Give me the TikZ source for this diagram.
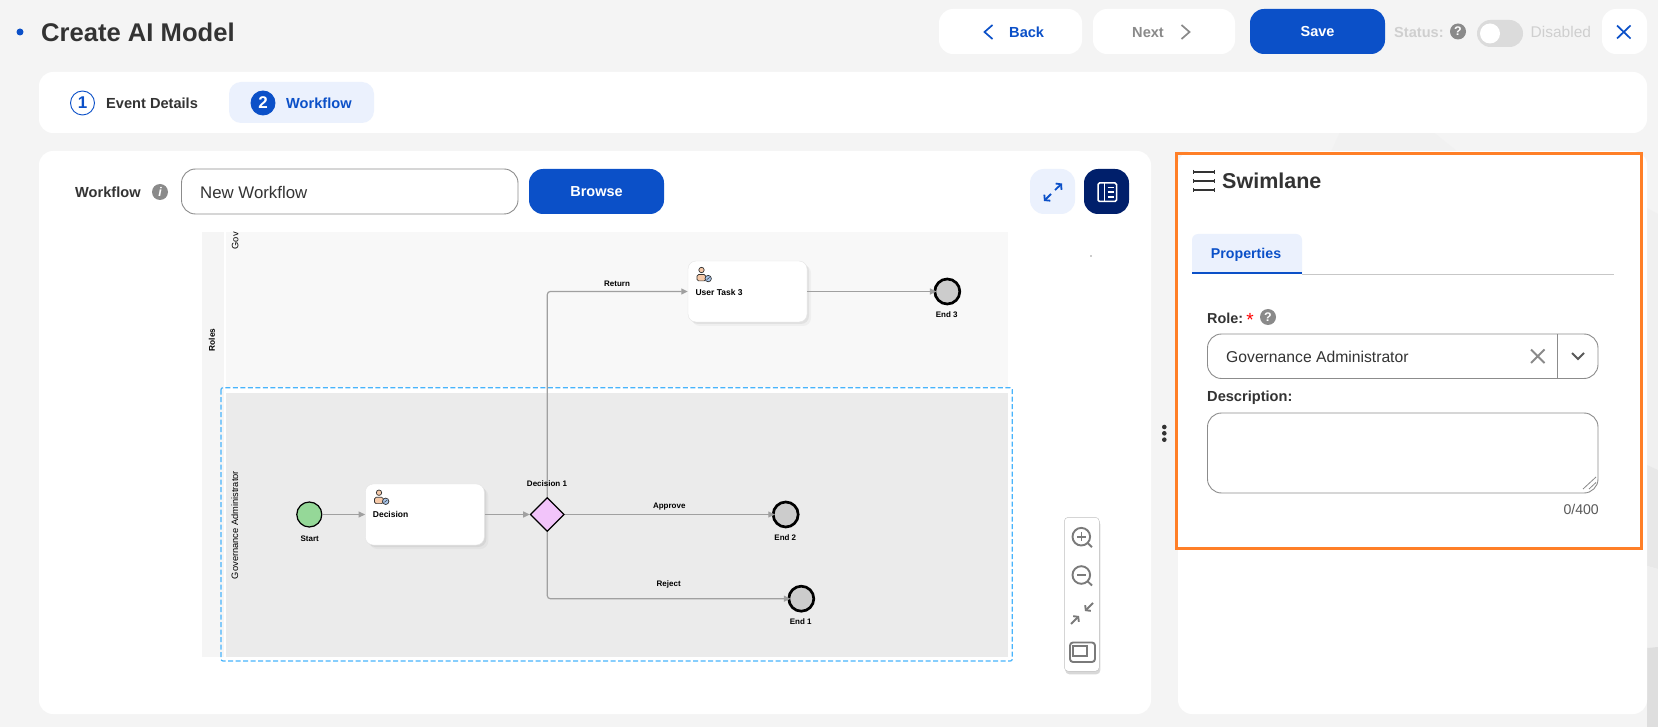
\documentclass[tikz,border=0pt]{standalone}
\usepackage{fontspec}
\setmainfont{Liberation Sans}
\usetikzlibrary{arrows.meta,positioning,shapes.geometric,shadows}
\definecolor{page_bg}{HTML}{F4F4F4}
\definecolor{brand_blue}{HTML}{0B50C8}
\definecolor{pale_blue}{HTML}{EBF1FD}
\definecolor{navy}{HTML}{001F6B}
\definecolor{ink}{HTML}{333333}
\definecolor{mute}{HTML}{8A8A8A}
\definecolor{faded}{HTML}{CFCFCF}
\definecolor{edge}{HTML}{8C8C8C}
\definecolor{flow}{HTML}{A0A0A0}
\definecolor{startgreen}{HTML}{95D898}
\definecolor{gatepink}{HTML}{F2C4FA}
\definecolor{personskin}{HTML}{F6C9A8}
\definecolor{badgeblue}{HTML}{A9C6EA}
\definecolor{dash_blue}{HTML}{48B4FC}
\definecolor{panel_orange}{HTML}{FF7F27}
\newcommand{\fsize}[1]{\fontsize{#1}{#1}\selectfont}
\tikzset{
        % Text, size in px, shifted so that the given y is the middle of the capitals
        sz_bold/.style={font=\bfseries\fsize{#1}, yshift={(2.6-0.36*#1)*1pt}},
        sz_plain/.style={font=\fsize{#1}, yshift={(2.6-0.36*#1)*1pt}},
        txt/.style={inner sep=0pt, anchor=mid west, text=ink},
        txt_bold/.style={txt, sz_bold=14.6},
        txt_flow/.style={inner sep=0pt, anchor=mid, text=black, sz_bold=8, yshift=-.8pt},
        txt_task/.style={inner sep=0pt, anchor=mid west, text=black, sz_bold=8.5, yshift=-.8pt},
        txt_side/.style={inner sep=0pt, anchor=mid, text=black, rotate=90},
        % Cards and buttons
        card/.style={draw=none, fill=white, rounded corners=14pt, inner sep=0pt},
        button/.style={card, minimum height=45pt},
        button_blue/.style={button, fill=brand_blue, text=white, font=\bfseries\fsize{14.5}},
        field/.style={draw=edge, line width=0.9pt, fill=white, rounded corners=14pt, inner sep=0pt},
        % Small round icons
        help_icon/.style={circle, fill=mute, text=white, inner sep=0pt, minimum size=16pt, font=\bfseries\fsize{12.5}},
        step_icon/.style={circle, draw=brand_blue, line width=0.9pt, inner sep=0pt, minimum size=24pt, font=\bfseries\fsize{17}},
        % Flow nodes
        node_task/.style={rectangle, draw=black!10, fill=white, rounded corners=8pt, inner sep=0pt,
                minimum width=119pt, minimum height=61pt,
                drop shadow={shadow xshift=2pt, shadow yshift=-2pt, opacity=.12},
                drop shadow={shadow xshift=4pt, shadow yshift=-4pt, opacity=.07}},
        node_start/.style={circle, draw=black, fill=startgreen, line width=1.2pt, inner sep=0pt, minimum size=25pt},
        node_end/.style={circle, draw=black, fill=black!20, line width=2.7pt, inner sep=0pt, minimum size=25pt},
        node_gate/.style={diamond, aspect=1, draw=black, fill=gatepink, line width=1.3pt, inner sep=0pt, minimum size=34pt},
        link/.style={->, draw=flow, line width=1.2pt, rounded corners=3pt},
        % Thin icon strokes
        zoom_icon/.style={draw=black!52, line width=1.9pt},
        pics/person/.style={code={
                \draw[draw=ink, line width=.7pt, fill=personskin] (0,0) circle (2.7pt);
                \draw[draw=ink, line width=.7pt, fill=personskin, rounded corners=1.5pt] (-4.5,4.6) rectangle (4.3,10.9);
                \draw[draw=ink, line width=.7pt, fill=badgeblue] (6.7,8.6) circle (3.2pt);
                \draw[draw=ink, line width=.5pt] (5.3,9.6) -- (8.1,7.4);
        }}
}
\begin{document}
\begin{tikzpicture}[x=1pt, y=-1pt, >={Triangle[length=6.5pt,width=6pt]}]
    \useasboundingbox (0,0) rectangle (1658,727);
    % Page
    \fill[page_bg] (0,0) rectangle (1658,727);
    \fill[black!5.5] (1339.5,133) -- (1331,152) -- (1458,152) -- (1434.5,133) -- cycle;
    \fill[black!6] (1647,208) -- (1658,214) -- (1658,470) -- (1647,465) -- cycle;
    \fill[black!9] (1647,465) -- (1658,470) -- (1658,569) -- (1647,566) -- cycle;
    \fill[black!6.5] (1647,566) -- (1658,569) -- (1658,647) -- (1647,648) -- cycle;
    \fill[black!13] (1647,648) -- (1658,647) -- (1658,727) -- (1647,727) -- cycle;

    % Header
    \fill[brand_blue] (20,32) circle (3.5pt);
    \node[txt, sz_bold=25.6] (title) at (41,32) {Create AI Model};
    \node[button, minimum width=143pt] (btn_back) at (1010.5,31.5) {};
    \node[button, minimum width=142pt] (btn_next) at (1164,31.5) {};
    \node[button_blue, minimum width=135pt] (btn_save) at (1317.5,31.5) {Save};
    \node[button, minimum width=45pt] (btn_close) at (1624.5,31.5) {};
    \node[txt_bold, text=brand_blue] (txt_back) at (1009,32) {Back};
    \node[txt_bold, text=mute] (txt_next) at (1132,32) {Next};
    \draw[brand_blue, line width=1.7pt] (992.5,25) -- (984.5,32) -- (992.5,39);
    \draw[mute, line width=1.7pt] (1181.5,25) -- (1189.5,32) -- (1181.5,39);
    \draw[brand_blue, line width=1.7pt] (1617,25.5) -- (1630.5,38.5) (1630.5,25.5) -- (1617,38.5);
    \node[txt_bold, text=faded] (txt_status) at (1394,32) {Status:};
    \node[help_icon] (help_status) at (1458,31.5) {?};
    \node[draw=none, fill=black!14, rounded corners=13.5pt, minimum width=46pt, minimum height=27pt, inner sep=0pt] (toggle) at (1500,33.5) {};
    \fill[white] (1490,33.5) circle (10pt);
    \node[txt, text=faded, sz_plain=15.5] (txt_disabled) at (1530.5,32) {Disabled};

    % Steps
    \node[card, minimum width=1608pt, minimum height=61pt] (bar_steps) at (843,102.5) {};
    \node[draw=none, fill=pale_blue, rounded corners=12pt, minimum width=145pt, minimum height=41pt, inner sep=0pt] (tab_workflow) at (301.5,102.5) {};
    \node[step_icon, fill=white, text=brand_blue] (step_one) at (82.5,103) {1};
    \node[txt_bold] (txt_event) at (106,103) {Event Details};
    \node[step_icon, fill=brand_blue, text=white] (step_two) at (263,103) {2};
    \node[txt_bold, text=brand_blue] (txt_workflow) at (286,103) {Workflow};

    % Left card
    \node[card, minimum width=1112pt, minimum height=563pt] (card_main) at (595,432.5) {};
    \node[txt_bold] (lbl_workflow) at (75,192) {Workflow};
    \node[help_icon, font=\itshape\bfseries\fsize{12.5}] (info_workflow) at (160,192) {i};
    \node[field, minimum width=336.5pt, minimum height=45pt] (in_workflow) at (349.75,191.5) {};
    \node[txt, sz_plain=16.8] (txt_new) at (200,192) {New Workflow};
    \node[button_blue, minimum width=135pt] (btn_browse) at (596.5,191.5) {Browse};
    \node[button, fill=pale_blue, minimum width=45pt] (btn_expand) at (1052.5,191.5) {};
    \node[button, fill=navy, minimum width=45pt] (btn_panel) at (1106.5,191.5) {};
    \draw[-{Straight Barb[length=3.5pt,width=8.5pt]}, brand_blue, line width=1.8pt] (1055,190) -- (1062,183.5);
    \draw[-{Straight Barb[length=3.5pt,width=8.5pt]}, brand_blue, line width=1.8pt] (1051,194) -- (1044,201);
    \draw[white, line width=1.5pt, rounded corners=1.5pt] (1098,183) rectangle (1116.5,201.5);
    \draw[white, line width=1.5pt] (1104.5,183) -- (1104.5,201.5);
    \foreach \y in {187.5,192.2,197}
        \draw[white, line width=1.5pt] (1107.5,\y) -- (1114,\y);

    % Lanes
    \fill[black!4] (202,232) rectangle (224,657);
    \fill[black!2.7] (226,232) rectangle (1008,387.5);
    \fill[black!8] (226,392.7) rectangle (1008,656.7);
    \draw[dash_blue, line width=1.2pt, dash pattern=on 5pt off 2.5pt, rounded corners=2pt] (221,387.7) rectangle (1012.3,661);
    \node[txt_side, font=\bfseries\fsize{8.3}] (lbl_roles) at (212.3,340) {Roles};
    \node[txt_side, anchor=mid east, font=\fsize{9.3}] (lbl_gov_top) at (235.7,232) {Gov};
    \node[txt_side, font=\fsize{9.3}] (lbl_gov) at (235.5,525) {Governance Administrator};
    \fill[black!20] (1090.2,255.2) rectangle (1091.8,256.8);

    % Flow
    \node[node_start] (start) at (309.3,514.5) {};
    \node[node_task] (task_decision) at (424.8,514.5) {};
    \node[node_gate] (gate) at (547.3,514.5) {};
    \node[node_task] (task_user) at (747.5,291.5) {};
    \node[node_end] (end_three) at (947.3,291.5) {};
    \node[node_end] (end_two) at (785.7,514.5) {};
    \node[node_end] (end_one) at (801.3,598.7) {};
    \pic at (379,492.7) {person};
    \pic at (701.5,270) {person};
    \node[txt_task] (txt_decision) at (372.7,513.7) {Decision};
    \node[txt_task] (txt_user) at (695.3,291.7) {User Task 3};
    \draw[link] (start) -- (task_decision);
    \draw[link] (task_decision) -- (gate);
    \draw[link] (gate.north) |- (task_user.west);
    \draw[link, shorten >=-3pt] (task_user) -- (end_three);
    \draw[link, shorten >=-3pt] (gate) -- (end_two);
    \draw[link, shorten >=-3pt] (gate.south) |- (end_one.west);
    \node[txt_flow] (lbl_start) at (309.7,537.3) {Start};
    \node[txt_flow] (lbl_gate) at (547,483) {Decision 1};
    \node[txt_flow] (lbl_return) at (617,282.3) {Return};
    \node[txt_flow] (lbl_approve) at (669.3,505) {Approve};
    \node[txt_flow] (lbl_reject) at (668.7,583) {Reject};
    \node[txt_flow] (lbl_end_three) at (946.7,314) {End 3};
    \node[txt_flow] (lbl_end_two) at (785.3,537) {End 2};
    \node[txt_flow] (lbl_end_one) at (800.7,621) {End 1};

    % Zoom tools
    \node[draw=black!25, fill=white, rounded corners=4pt, minimum width=35pt, minimum height=154pt, inner sep=0pt,
          drop shadow={shadow xshift=1pt, shadow yshift=-3pt, opacity=.3}] (zoom_bar) at (1081.8,594.3) {};
    \foreach \y in {536.7,575} {
        \draw[zoom_icon] (1081.3,\y) circle (8.8pt);
        \draw[zoom_icon] (1087.8,\y+6.5) -- (1092,\y+10.5);
        \draw[zoom_icon, line width=1.6pt] (1077,\y) -- (1085.6,\y);
    }
    \draw[zoom_icon, line width=1.6pt] (1081.3,532.4) -- (1081.3,541);
    \draw[-{Straight Barb[length=3pt,width=8pt]}, zoom_icon] (1093,603) -- (1085,611);
    \draw[-{Straight Barb[length=3pt,width=8pt]}, zoom_icon] (1071,624) -- (1079,616);
    \draw[zoom_icon, rounded corners=3pt] (1070,642.5) rectangle (1095,662);
    \draw[zoom_icon, line width=1.5pt] (1073,646) rectangle (1087,656);

    % Right panel
    \node[card, minimum width=469pt, minimum height=563pt] (card_side) at (1412.5,432.5) {};
    \foreach \y in {427,433.3,439.7}
        \fill[ink] (1164.3,\y) circle (2.3pt);
    \draw[panel_orange, line width=3pt] (1176.5,153.5) rectangle (1641.5,548.5);
    \foreach \y in {172,181,190} {
        \draw[ink, line width=1.4pt] (1193,\y) -- (1214,\y);
        \draw[ink, line width=1pt] (1193,\y-2) -- (1193,\y+2) (1214,\y-2) -- (1214,\y+2);
    }
    \node[txt, sz_bold=21.5] (txt_swimlane) at (1222,181) {Swimlane};
    \fill[pale_blue, rounded corners=6pt] (1192,234) -- (1302,234) -- (1302,280) -- (1192,280) -- cycle;
    \fill[white] (1185,274) rectangle (1310,284);
    \draw[black!22, line width=1pt] (1302,274.3) -- (1614,274.3);
    \draw[brand_blue, line width=2pt] (1192,273.5) -- (1302,273.5);
    \node[txt, text=brand_blue, sz_bold=14.2] (tab_properties) at (1210.7,253) {Properties};
    \node[txt, sz_bold=14.4] (lbl_role) at (1207,318) {Role:};
    \node[inner sep=0pt, anchor=base, text=red, font=\fsize{19}] (lbl_star) at (1250,327) {*};
    \node[help_icon, minimum size=16pt] (help_role) at (1268,317) {?};
    \node[field, minimum width=390.5pt, minimum height=44.5pt] (in_role) at (1402.75,356.25) {};
    \draw[edge, line width=.9pt] (1557.5,334) -- (1557.5,378.5);
    \node[txt, sz_plain=15.7] (txt_role) at (1226,356.7) {Governance Administrator};
    \draw[mute, line width=1.8pt] (1531,349.5) -- (1544.5,363) (1544.5,349.5) -- (1531,363);
    \draw[black!65, line width=1.8pt] (1572,353) -- (1578,359) -- (1584,353);
    \node[txt_bold] (lbl_desc) at (1207,396.5) {Description:};
    \node[field, minimum width=390.5pt, minimum height=80pt] (in_desc) at (1402.75,453) {};
    \draw[mute, line width=.8pt] (1583,489) -- (1596,477) (1589,489) -- (1596,482.5);
    \node[txt, anchor=mid east, text=black!65, sz_plain=14.1] (txt_count) at (1599,509) {0/400};
\end{tikzpicture}
\end{document}
